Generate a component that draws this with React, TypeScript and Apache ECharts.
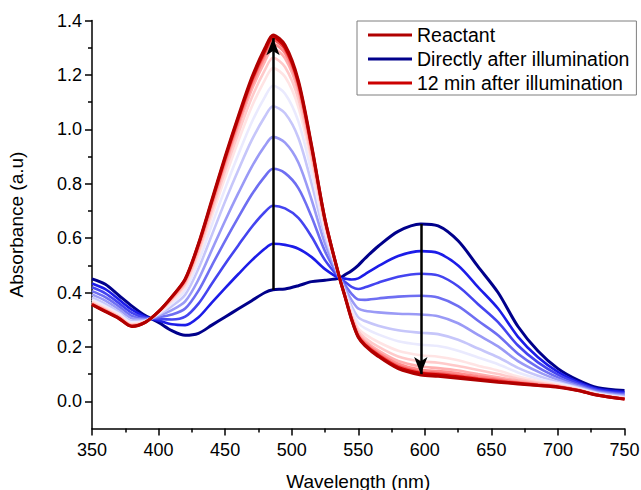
import React, { useEffect, useRef } from "react";
import * as echarts from "echarts";

// Wavelength grid (nm)
const wavelengths = [350, 360, 370, 380, 390, 400, 410, 420, 430, 440, 450, 460, 470, 480, 486, 495, 505, 515, 525, 536, 540, 545, 550, 555, 565, 580, 597, 610, 625, 640, 655, 670, 685, 700, 715, 730, 750];

// Absorbance spectra
const directly = [0.45, 0.43, 0.39, 0.35, 0.315, 0.29, 0.26, 0.243, 0.25, 0.28, 0.31, 0.34, 0.37, 0.40, 0.41, 0.413, 0.425, 0.44, 0.445, 0.453, 0.465, 0.48, 0.50, 0.525, 0.57, 0.625, 0.652, 0.645, 0.59, 0.495, 0.40, 0.275, 0.185, 0.12, 0.078, 0.05, 0.04];
const step1 = [0.433, 0.412, 0.375, 0.337, 0.311, 0.297, 0.283, 0.280, 0.309, 0.363, 0.416, 0.468, 0.518, 0.562, 0.579, 0.575, 0.561, 0.530, 0.486, 0.453, 0.451, 0.448, 0.452, 0.467, 0.497, 0.534, 0.552, 0.545, 0.499, 0.420, 0.341, 0.237, 0.162, 0.108, 0.071, 0.045, 0.034];
const step2 = [0.419, 0.397, 0.362, 0.325, 0.307, 0.303, 0.301, 0.311, 0.359, 0.432, 0.505, 0.574, 0.641, 0.697, 0.719, 0.709, 0.674, 0.605, 0.519, 0.453, 0.439, 0.421, 0.413, 0.419, 0.436, 0.458, 0.469, 0.463, 0.423, 0.357, 0.291, 0.205, 0.143, 0.098, 0.066, 0.041, 0.029];
const step3 = [0.405, 0.383, 0.350, 0.314, 0.303, 0.309, 0.319, 0.341, 0.407, 0.499, 0.590, 0.677, 0.760, 0.828, 0.855, 0.839, 0.784, 0.678, 0.552, 0.453, 0.427, 0.395, 0.374, 0.373, 0.378, 0.385, 0.388, 0.382, 0.350, 0.296, 0.243, 0.175, 0.125, 0.088, 0.060, 0.037, 0.025];
const step4 = [0.393, 0.370, 0.339, 0.305, 0.300, 0.314, 0.335, 0.367, 0.448, 0.556, 0.664, 0.766, 0.862, 0.940, 0.972, 0.951, 0.878, 0.740, 0.580, 0.453, 0.417, 0.372, 0.341, 0.333, 0.327, 0.322, 0.319, 0.313, 0.287, 0.244, 0.202, 0.148, 0.109, 0.079, 0.055, 0.033, 0.021];
const step5 = [0.382, 0.358, 0.329, 0.296, 0.297, 0.319, 0.350, 0.392, 0.488, 0.611, 0.735, 0.851, 0.960, 1.048, 1.085, 1.059, 0.969, 0.800, 0.607, 0.453, 0.407, 0.350, 0.309, 0.295, 0.278, 0.261, 0.252, 0.247, 0.226, 0.194, 0.162, 0.123, 0.094, 0.071, 0.051, 0.030, 0.017];
const step6 = [0.374, 0.350, 0.322, 0.290, 0.295, 0.322, 0.360, 0.409, 0.514, 0.648, 0.782, 0.908, 1.026, 1.120, 1.160, 1.131, 1.029, 0.840, 0.625, 0.453, 0.401, 0.336, 0.288, 0.269, 0.246, 0.221, 0.208, 0.203, 0.186, 0.161, 0.136, 0.106, 0.083, 0.066, 0.048, 0.028, 0.014];
const step7 = [0.367, 0.343, 0.316, 0.285, 0.293, 0.325, 0.369, 0.423, 0.537, 0.680, 0.823, 0.958, 1.083, 1.183, 1.225, 1.193, 1.082, 0.875, 0.641, 0.453, 0.395, 0.323, 0.269, 0.247, 0.218, 0.186, 0.169, 0.164, 0.151, 0.131, 0.113, 0.091, 0.075, 0.061, 0.045, 0.026, 0.012];
const step8 = [0.364, 0.339, 0.313, 0.282, 0.292, 0.326, 0.374, 0.431, 0.550, 0.699, 0.847, 0.986, 1.116, 1.219, 1.263, 1.229, 1.112, 0.895, 0.650, 0.453, 0.392, 0.316, 0.259, 0.234, 0.201, 0.165, 0.147, 0.142, 0.130, 0.115, 0.100, 0.083, 0.069, 0.058, 0.043, 0.025, 0.011];
const step9 = [0.360, 0.336, 0.310, 0.279, 0.291, 0.328, 0.378, 0.439, 0.562, 0.715, 0.868, 1.011, 1.145, 1.251, 1.296, 1.261, 1.139, 0.913, 0.658, 0.453, 0.389, 0.310, 0.250, 0.223, 0.187, 0.148, 0.128, 0.122, 0.113, 0.100, 0.088, 0.076, 0.065, 0.056, 0.042, 0.024, 0.010];
const step10 = [0.358, 0.334, 0.308, 0.278, 0.291, 0.329, 0.381, 0.443, 0.569, 0.724, 0.879, 1.025, 1.161, 1.269, 1.314, 1.279, 1.154, 0.923, 0.662, 0.453, 0.388, 0.306, 0.244, 0.216, 0.179, 0.138, 0.116, 0.111, 0.103, 0.092, 0.082, 0.071, 0.062, 0.054, 0.041, 0.023, 0.009];
const step11 = [0.357, 0.332, 0.307, 0.277, 0.291, 0.329, 0.383, 0.446, 0.573, 0.731, 0.888, 1.036, 1.174, 1.282, 1.328, 1.292, 1.165, 0.930, 0.666, 0.453, 0.387, 0.304, 0.240, 0.211, 0.173, 0.130, 0.108, 0.103, 0.095, 0.085, 0.077, 0.068, 0.061, 0.053, 0.041, 0.023, 0.009];
const after12min = [0.356, 0.331, 0.306, 0.276, 0.290, 0.330, 0.384, 0.448, 0.577, 0.735, 0.894, 1.043, 1.182, 1.291, 1.338, 1.301, 1.172, 0.935, 0.668, 0.453, 0.386, 0.302, 0.238, 0.208, 0.169, 0.125, 0.103, 0.098, 0.090, 0.081, 0.073, 0.066, 0.059, 0.053, 0.040, 0.022, 0.008];
const reactant = [0.355, 0.33, 0.305, 0.275, 0.29, 0.33, 0.385, 0.45, 0.58, 0.74, 0.90, 1.05, 1.19, 1.30, 1.347, 1.31, 1.18, 0.94, 0.67, 0.453, 0.385, 0.30, 0.235, 0.205, 0.165, 0.12, 0.097, 0.092, 0.085, 0.077, 0.07, 0.064, 0.058, 0.052, 0.04, 0.022, 0.008];

const seriesNames = ["Directly after illumination", "s1", "s2", "s3", "s4", "s5", "s6", "s7", "s8", "s9", "s10", "s11", "12 min after illumination", "Reactant"];
const seriesValues = [directly, step1, step2, step3, step4, step5, step6, step7, step8, step9, step10, step11, after12min, reactant];
const seriesColors = ["#00008b", "#1c1ce8", "#4444f0", "#6e6ef2", "#9a9af6", "#c6c6fa", "#eaeafe", "#ffe4e4", "#ffcaca", "#ffaeae", "#ff8a8a", "#f25a5a", "#cc0000", "#b00000"];
const legendNames = ["Reactant", "Directly after illumination", "12 min after illumination"];

// Arrows: [wavelength, from absorbance, to absorbance]
const arrowUp = [486, 0.41, 1.335];
const arrowDown = [597, 0.652, 0.1];

const xTicks = { min: 350, max: 750, interval: 50 };
const yTicks = { min: 0, max: 1.4, interval: 0.2 };

const FONT = "Liberation Sans, Arial, sans-serif";

export default function App() {
  const ref = useRef<HTMLDivElement>(null);
  useEffect(() => {
    document.body.style.margin = "0";
    if (!ref.current) return;
    const chart = echarts.init(ref.current, null, { renderer: "svg" });
    const lineSeries = seriesValues.map((vals, k) => ({
      type: "line",
      name: seriesNames[k],
      xAxisIndex: 0,
      yAxisIndex: 0,
      data: wavelengths.map((w, i) => [w, vals[i]]),
      showSymbol: false,
      symbol: "none",
      smooth: 0.3,
      color: seriesColors[k],
      lineStyle: { color: seriesColors[k], width: k === 0 || k >= 12 ? 3 : 2.6 },
      z: 2 + k * 0.01,
    }));
    const arrowSeries = {
      type: "line",
      name: "arrows",
      xAxisIndex: 0,
      yAxisIndex: 0,
      data: [],
      z: 5,
      markLine: {
        silent: true,
        symbol: ["none", "arrow"],
        symbolSize: [10, 17],
        label: { show: false },
        lineStyle: { color: "#000", width: 2.5, type: "solid" },
        data: [
          [{ coord: [arrowUp[0], arrowUp[1]] }, { coord: [arrowUp[0], arrowUp[2]] }],
          [{ coord: [arrowDown[0], arrowDown[1]] }, { coord: [arrowDown[0], arrowDown[2]] }],
        ],
      },
    };
    chart.setOption({
      animation: false,
      backgroundColor: "#fff",
      textStyle: { fontFamily: FONT },
      grid: [
        { left: 92, top: 20.5, right: 16.5, bottom: 61.5, containLabel: false, outerBoundsMode: "none" },
        { left: 92, top: 20.5, right: 16.5, bottom: 88.7, containLabel: false, outerBoundsMode: "none" },
      ],
      legend: {
        data: legendNames,
        left: 357,
        top: 21,
        orient: "vertical",
        backgroundColor: "#fff",
        borderColor: "#7f7f7f",
        borderWidth: 1,
        borderRadius: 0,
        padding: [4, 7, 2, 11],
        itemGap: 4,
        itemWidth: 44,
        itemHeight: 3,
        icon: "rect",
        textStyle: { fontSize: 19.5, color: "#000", fontFamily: FONT },
      },
      xAxis: [
        {
          type: "value",
          gridIndex: 0,
          min: xTicks.min,
          max: xTicks.max,
          interval: xTicks.interval,
          name: "Wavelength (nm)",
          nameLocation: "middle",
          nameGap: 43,
          nameTextStyle: { fontSize: 19, color: "#000", fontFamily: FONT },
          axisLine: { show: true, onZero: false, lineStyle: { color: "#000", width: 1.5 } },
          axisTick: { show: true, inside: false, length: 7, lineStyle: { color: "#000", width: 1.5 } },
          minorTick: { show: true, splitNumber: 2, length: 4, lineStyle: { color: "#000", width: 1.5 } },
          axisLabel: { fontSize: 18, color: "#000", margin: 12, fontFamily: FONT },
          splitLine: { show: false },
        },
        {
          type: "value",
          gridIndex: 1,
          min: xTicks.min,
          max: xTicks.max,
          show: false,
        },
      ],
      yAxis: [
        {
          type: "value",
          gridIndex: 0,
          min: -0.1,
          max: 1.4,
          name: "Absorbance (a.u)",
          nameLocation: "middle",
          nameGap: 66,
          nameTextStyle: { fontSize: 19, color: "#000", fontFamily: FONT },
          axisLine: { show: true, onZero: false, lineStyle: { color: "#000", width: 1.5 } },
          axisTick: { show: false },
          axisLabel: { show: false },
          splitLine: { show: false },
        },
        {
          type: "value",
          gridIndex: 1,
          min: yTicks.min,
          max: yTicks.max,
          interval: yTicks.interval,
          axisLine: { show: false },
          axisTick: { show: true, inside: false, length: 7, lineStyle: { color: "#000", width: 1.5 } },
          minorTick: { show: true, splitNumber: 2, length: 4, lineStyle: { color: "#000", width: 1.5 } },
          axisLabel: {
            fontSize: 18,
            color: "#000",
            margin: 10,
            fontFamily: FONT,
            formatter: (v: number) => v.toFixed(1),
          },
          splitLine: { show: false },
        },
      ],
      series: [...lineSeries, arrowSeries],
    });
    return () => chart.dispose();
  }, []);
  return <div ref={ref} style={{ width: 641, height: 490 }} />;
}
